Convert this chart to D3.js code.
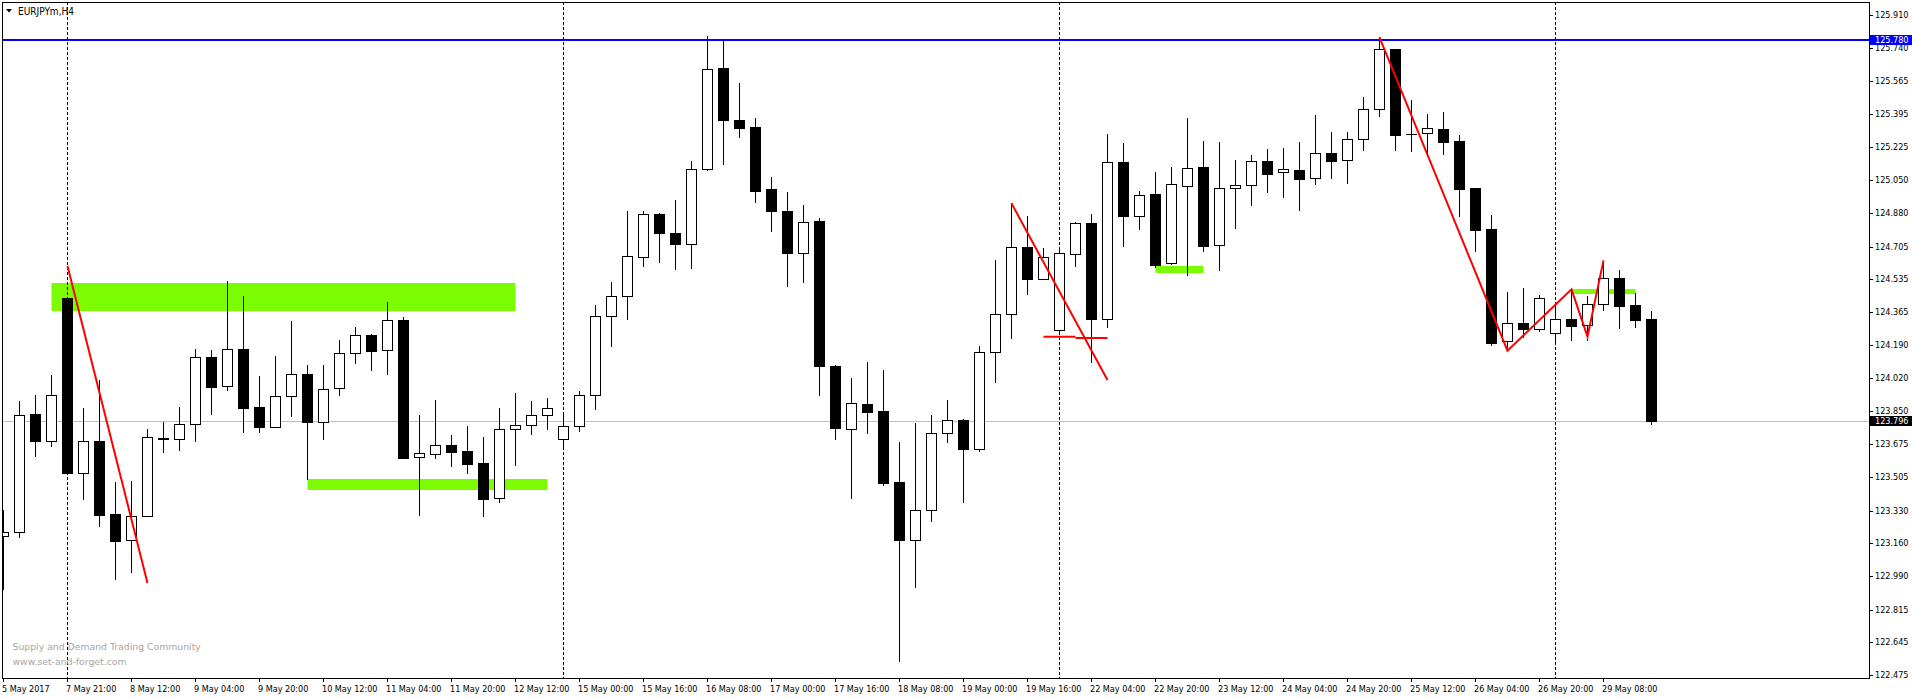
<!DOCTYPE html>
<html>
<head>
  <meta charset="utf-8">
  <title>EURJPYm,H4</title>
  <style>
    body {
      margin: 0;
      padding: 0;
      background: #fff;
    }

    svg {
      display: block;
    }

    .axis text,
    .title {
      font-family: "DejaVu Sans Condensed", "DejaVu Sans", sans-serif;
      font-size: 9px;
      fill: #000;
    }

    .title {
      font-size: 10px;
    }

    .watermark {
      font-family: "DejaVu Sans", sans-serif;
      font-size: 9.3px;
      fill: #a6a6a6;
    }
  </style>
</head>

<body>
  <div id="chart"></div>

  <script src="https://d3js.org/d3.v7.min.js"></script>
  <script>
    // EURJPYm H4 candles (5 May - 29 May 2017)
    var opens = [123.198, 123.219, 123.833, 123.693, 124.437, 123.526, 123.693, 123.313, 123.178, 123.303,
      123.708, 123.703, 123.781, 124.130, 123.979, 124.172, 123.870, 123.766, 123.927, 124.042,
      123.792, 123.969, 124.151, 124.244, 124.166, 124.323, 123.610, 123.625, 123.672, 123.641,
      123.578, 123.396, 123.755, 123.776, 123.828, 123.703, 123.771, 123.932, 124.343, 124.448,
      124.650, 124.874, 124.775, 124.718, 125.108, 125.634, 125.364, 125.327, 125.004, 124.890,
      124.671, 124.838, 124.083, 123.755, 123.885, 123.849, 123.479, 123.178, 123.334, 123.734,
      123.802, 123.651, 124.156, 124.354, 124.703, 124.536, 124.271, 124.666, 124.827, 124.328,
      125.145, 124.864, 124.978, 124.619, 125.020, 125.119, 124.713, 125.010, 125.025, 125.150,
      125.093, 125.103, 125.062, 125.192, 125.155, 125.265, 125.421, 125.733, 125.291, 125.296,
      125.317, 125.254, 125.010, 124.796, 124.213, 124.307, 124.276, 124.255, 124.328, 124.297,
      124.406, 124.541, 124.401, 124.328];

    var highs = [123.334, 123.901, 123.932, 124.036, 124.442, 123.865, 124.010, 123.479, 123.485, 123.755,
      123.792, 123.870, 124.172, 124.166, 124.526, 124.448, 124.031, 124.135, 124.317, 124.088,
      124.088, 124.219, 124.286, 124.250, 124.416, 124.338, 123.828, 123.906, 123.724, 123.771,
      123.714, 123.865, 123.943, 123.901, 123.917, 123.839, 123.953, 124.401, 124.520, 124.890,
      124.890, 124.879, 124.947, 125.150, 125.801, 125.780, 125.556, 125.374, 125.067, 124.989,
      124.921, 124.853, 124.088, 124.021, 124.104, 124.062, 123.688, 123.787, 123.828, 123.906,
      123.807, 124.187, 124.635, 124.932, 124.864, 124.697, 124.697, 124.833, 124.874, 125.291,
      125.244, 124.994, 125.093, 125.119, 125.374, 125.254, 125.249, 125.155, 125.181, 125.213,
      125.218, 125.249, 125.390, 125.301, 125.301, 125.483, 125.795, 125.733, 125.468, 125.395,
      125.405, 125.285, 125.010, 124.869, 124.468, 124.489, 124.453, 124.416, 124.479, 124.448,
      124.624, 124.583, 124.463, 124.369];

    var lows = [122.923, 123.193, 123.615, 123.667, 123.526, 123.391, 123.250, 122.975, 123.011, 123.303,
      123.636, 123.646, 123.693, 123.833, 123.958, 123.740, 123.740, 123.766, 123.823, 123.495,
      123.703, 123.932, 124.099, 124.062, 124.042, 123.604, 123.308, 123.604, 123.563, 123.526,
      123.303, 123.375, 123.568, 123.729, 123.755, 123.651, 123.745, 123.859, 124.187, 124.328,
      124.604, 124.624, 124.588, 124.593, 125.103, 125.135, 125.275, 124.937, 124.786, 124.500,
      124.520, 123.932, 123.703, 123.396, 123.734, 123.464, 122.548, 122.933, 123.277, 123.688,
      123.375, 123.641, 124.000, 124.229, 124.458, 124.536, 124.255, 124.604, 124.104, 124.286,
      124.708, 124.796, 124.598, 124.614, 124.557, 124.682, 124.583, 124.801, 124.921, 124.989,
      124.963, 124.895, 125.030, 125.062, 125.036, 125.207, 125.384, 125.207, 125.202, 125.197,
      125.187, 124.864, 124.682, 124.192, 124.166, 124.234, 124.265, 124.208, 124.219, 124.219,
      124.375, 124.281, 124.286, 123.781];

    var closes = [123.219, 123.828, 123.693, 123.932, 123.526, 123.693, 123.308, 123.172, 123.303, 123.714,
      123.703, 123.781, 124.130, 123.974, 124.172, 123.865, 123.766, 123.927, 124.042, 123.792,
      123.963, 124.151, 124.244, 124.161, 124.323, 123.604, 123.630, 123.672, 123.636, 123.573,
      123.391, 123.755, 123.776, 123.828, 123.865, 123.771, 123.932, 124.343, 124.448, 124.656,
      124.874, 124.775, 124.718, 125.108, 125.629, 125.364, 125.322, 124.994, 124.890, 124.671,
      124.833, 124.083, 123.761, 123.891, 123.844, 123.474, 123.178, 123.334, 123.734, 123.802,
      123.651, 124.156, 124.354, 124.703, 124.536, 124.650, 124.671, 124.827, 124.328, 125.145,
      124.864, 124.973, 124.609, 125.030, 125.114, 124.708, 125.010, 125.025, 125.150, 125.082,
      125.108, 125.056, 125.192, 125.150, 125.265, 125.421, 125.733, 125.285, 125.291, 125.322,
      125.249, 125.004, 124.791, 124.203, 124.307, 124.276, 124.437, 124.328, 124.291, 124.406,
      124.541, 124.395, 124.323, 123.796];

    // one time label every 4 bars
    var dateLabels = ["5 May 2017", "7 May 21:00", "8 May 12:00", "9 May 04:00", "9 May 20:00",
      "10 May 12:00", "11 May 04:00", "11 May 20:00", "12 May 12:00", "15 May 00:00", "15 May 16:00",
      "16 May 08:00", "17 May 00:00", "17 May 16:00", "18 May 08:00", "19 May 00:00", "19 May 16:00",
      "22 May 04:00", "22 May 20:00", "23 May 12:00", "24 May 04:00", "24 May 20:00", "25 May 12:00",
      "26 May 04:00", "26 May 20:00", "29 May 08:00"];

    var priceTicks = ["125.910", "125.740", "125.565", "125.395", "125.225", "125.050", "124.880",
      "124.705", "124.535", "124.365", "124.190", "124.020", "123.850", "123.675", "123.505",
      "123.330", "123.160", "122.990", "122.815", "122.645", "122.475"];

    // week separators (bar index)
    var separatorBars = [4, 35, 66, 97];

    var resistance = 125.780;
    var lastPrice = 123.796;

    // supply / demand zones
    var zoneFrom = [3, 19, 72, 98];
    var zoneTo = [32, 34, 75, 102];
    var zoneTop = [124.515, 123.495, 124.604, 124.484];
    var zoneBottom = [124.369, 123.438, 124.567, 124.460];

    // red trend lines, [bar, price] pairs
    var redLines = [
      [[4, 124.604], [9, 122.954]],
      [[63, 124.930], [69, 124.010]],
      [[65, 124.236], [67, 124.236]],
      [[67, 124.229], [69, 124.229]],
      [[86, 125.794], [94, 124.163], [98, 124.482], [99, 124.236], [100, 124.633]]
    ];

    var width = 1912,
      height = 699;
    var plotLeft = 2,
      plotTop = 2,
      plotRight = 1869,
      plotBottom = 678;

    var svg = d3.select("#chart")
      .append("svg")
      .attr("width", width)
      .attr("height", height);

    svg.append("rect")
      .attr("width", width)
      .attr("height", height)
      .attr("fill", "#fff");

    var n = opens.length;
    var x = d3.scaleLinear()
      .domain([0, n - 1])
      .range([3.5, 3.5 + 16 * (n - 1)]);
    var y = d3.scaleLinear()
      .domain([+priceTicks[priceTicks.length - 1], +priceTicks[0]])
      .range([675, 15]);

    // snap to pixel row
    function py(v) {
      return Math.round(y(v)) + 0.5;
    }

    svg.append("clipPath")
      .attr("id", "plot")
      .append("rect")
      .attr("x", plotLeft + 1)
      .attr("y", plotTop + 1)
      .attr("width", plotRight - plotLeft - 1)
      .attr("height", plotBottom - plotTop - 1);

    var plot = svg.append("g").attr("clip-path", "url(#plot)");

    // zones in the background
    plot.append("g")
      .selectAll("rect")
      .data(zoneFrom)
      .enter()
      .append("rect")
      .attr("x", function(d) { return x(d); })
      .attr("width", function(d, i) { return x(zoneTo[i]) - x(d); })
      .attr("y", function(d, i) { return Math.round(y(zoneTop[i])); })
      .attr("height", function(d, i) { return Math.round(y(zoneBottom[i])) - Math.round(y(zoneTop[i])); })
      .attr("fill", "#7cfc00");

    // period separators
    plot.append("g")
      .selectAll("line")
      .data(separatorBars)
      .enter()
      .append("line")
      .attr("x1", function(d) { return x(d); })
      .attr("x2", function(d) { return x(d); })
      .attr("y1", plotTop)
      .attr("y2", plotBottom)
      .attr("stroke", "#000")
      .attr("stroke-width", 1)
      .attr("stroke-dasharray", "3,2");

    // bid line
    plot.append("line")
      .attr("x1", plotLeft)
      .attr("x2", plotRight)
      .attr("y1", py(lastPrice))
      .attr("y2", py(lastPrice))
      .attr("stroke", "#c0c0c0")
      .attr("stroke-width", 1);

    // candles
    var candles = plot.append("g")
      .selectAll("g")
      .data(d3.range(n))
      .enter()
      .append("g");

    candles.append("line")
      .attr("x1", function(i) { return x(i); })
      .attr("x2", function(i) { return x(i); })
      .attr("y1", function(i) { return Math.round(y(highs[i])); })
      .attr("y2", function(i) { return Math.round(y(lows[i])) + 1; })
      .attr("stroke", "#000")
      .attr("stroke-width", 1);

    candles.each(function(i) {
      var g = d3.select(this);
      var top = Math.round(y(Math.max(opens[i], closes[i])));
      var bot = Math.round(y(Math.min(opens[i], closes[i])));
      var cx = x(i);
      if (bot - top < 1) {
        // doji
        g.append("line")
          .attr("x1", cx - 5.5)
          .attr("x2", cx + 5.5)
          .attr("y1", top + 0.5)
          .attr("y2", top + 0.5)
          .attr("stroke", "#000")
          .attr("stroke-width", closes[i] < opens[i] ? 2 : 1);
      } else if (closes[i] >= opens[i]) {
        g.append("rect")
          .attr("x", cx - 5)
          .attr("y", top + 0.5)
          .attr("width", 10)
          .attr("height", bot - top)
          .attr("fill", "#fff")
          .attr("stroke", "#000")
          .attr("stroke-width", 1);
      } else {
        g.append("rect")
          .attr("x", cx - 5.5)
          .attr("y", top)
          .attr("width", 11)
          .attr("height", bot - top + 1)
          .attr("fill", "#000");
      }
    });

    // resistance level
    plot.append("line")
      .attr("x1", plotLeft)
      .attr("x2", plotRight)
      .attr("y1", Math.round(y(resistance)))
      .attr("y2", Math.round(y(resistance)))
      .attr("stroke", "#0000ff")
      .attr("stroke-width", 2);

    // red drawings
    var redPath = d3.line()
      .x(function(d) { return x(d[0]); })
      .y(function(d) { return y(d[1]); });

    plot.append("g")
      .selectAll("path")
      .data(redLines)
      .enter()
      .append("path")
      .attr("d", redPath)
      .attr("fill", "none")
      .attr("stroke", "#ff0000")
      .attr("stroke-width", 2);

    // frame
    svg.append("rect")
      .attr("x", plotLeft + 0.5)
      .attr("y", plotTop + 0.5)
      .attr("width", plotRight - plotLeft)
      .attr("height", plotBottom - plotTop)
      .attr("fill", "none")
      .attr("stroke", "#000")
      .attr("stroke-width", 1);

    // price axis
    var yAxis = svg.append("g").attr("class", "axis");

    var yTicks = yAxis.selectAll("g")
      .data(priceTicks)
      .enter()
      .append("g")
      .attr("transform", function(d) { return "translate(0," + py(+d) + ")"; });

    yTicks.append("line")
      .attr("x1", plotRight + 0.5)
      .attr("x2", plotRight + 4)
      .attr("stroke", "#000");

    yTicks.append("text")
      .attr("x", plotRight + 6)
      .attr("dy", "0.33em")
      .text(function(d) { return d; });

    // price boxes
    var boxes = [{ v: resistance, fill: "#0000ff" }, { v: lastPrice, fill: "#000" }];
    var box = yAxis.selectAll("g.box")
      .data(boxes)
      .enter()
      .append("g")
      .attr("class", "box")
      .attr("transform", function(d) { return "translate(0," + Math.round(y(d.v)) + ")"; });

    box.append("rect")
      .attr("x", plotRight + 1)
      .attr("y", -5)
      .attr("width", 42)
      .attr("height", 10)
      .attr("fill", function(d) { return d.fill; });

    box.append("text")
      .attr("x", plotRight + 6)
      .attr("dy", "0.36em")
      .style("fill", "#fff")
      .text(function(d) { return d.v.toFixed(3); });

    // time axis
    var xAxis = svg.append("g").attr("class", "axis");

    var xTicks = xAxis.selectAll("g")
      .data(dateLabels)
      .enter()
      .append("g")
      .attr("transform", function(d, i) { return "translate(" + x(i * 4) + ",0)"; });

    xTicks.append("line")
      .attr("y1", plotBottom)
      .attr("y2", plotBottom + 4)
      .attr("stroke", "#000");

    xTicks.append("text")
      .attr("x", -1.5)
      .attr("y", 691.5)
      .text(function(d) { return d; });

    // symbol title
    svg.append("path")
      .attr("d", "M6,9L12,9L9,12.5Z")
      .attr("fill", "#000");

    svg.append("text")
      .attr("class", "title")
      .attr("x", 18)
      .attr("y", 14.5)
      .text("EURJPYm,H4");

    // watermark
    svg.append("text")
      .attr("class", "watermark")
      .attr("x", 12.5)
      .attr("y", 649.5)
      .text("Supply and Demand Trading Community");

    svg.append("text")
      .attr("class", "watermark")
      .attr("x", 12.5)
      .attr("y", 664.5)
      .text("www.set-and-forget.com");
  </script>
</body>

</html>
